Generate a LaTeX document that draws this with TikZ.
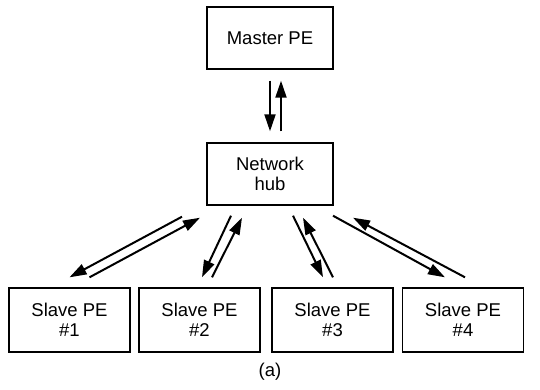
\documentclass[tikz,border=0pt]{standalone}
\usepackage{fontspec}
\setmainfont{Liberation Sans}
\usetikzlibrary{arrows.meta}
\usetikzlibrary{positioning}
\tikzstyle{block} = [
	draw,
	line width=1.4pt,
	inner sep=0pt,
	align=center,
	minimum width=126pt,
	minimum height=62pt
]
\tikzstyle{slave} = [block, minimum width=121pt, minimum height=64pt]
\tikzstyle{link} = [-{Triangle[length=17pt,width=11pt]}, line width=2pt]

\begin{document}
\begin{tikzpicture}[x=1pt, y=-1pt, font=\fontsize{18.5}{20.5}\selectfont]
	\useasboundingbox (0,0) rectangle (540,389);
	\node[block, name = MASTER] at (270,38) {Master PE};
	\node[block, name = HUB, below of = MASTER, node distance = 136pt] {Network\\hub};
	\node[slave, name = SL1] at (69.5,320) {Slave PE\\\#1};
	\node[slave, name = SL2, right of = SL1, node distance = 130pt] {Slave PE\\\#2};
	\node[slave, name = SL3, right of = SL2, node distance = 133pt] {Slave PE\\\#3};
	\node[slave, name = SL4, right of = SL3, node distance = 130.5pt] {Slave PE\\\#4};
	\node[name = CAP] at (270,372) {(a)};

	\draw[link] ([yshift=-11pt]MASTER.south) -- ([yshift=11pt]HUB.north);
	\draw[link] ([xshift=11pt, yshift=11pt]HUB.north) -- ([xshift=11pt, yshift=-11pt]MASTER.south);

	\draw[link] ([xshift=-88pt, yshift=-11pt]HUB.south) -- ([yshift=10pt]SL1.north);
	\draw[link] ([xshift=20pt, yshift=10pt]SL1.north) -- ([xshift=-70pt, yshift=-12pt]HUB.south);
	\draw[link] ([xshift=-39pt, yshift=-10pt]HUB.south) -- ([xshift=2.5pt, yshift=10pt]SL2.north);
	\draw[link] ([xshift=12.5pt, yshift=10pt]SL2.north) -- ([xshift=-28pt, yshift=-12pt]HUB.south);
	\draw[link] ([xshift=23pt, yshift=-10pt]HUB.south) -- ([xshift=-9.5pt, yshift=10pt]SL3.north);
	\draw[link] ([xshift=0.5pt, yshift=10pt]SL3.north) -- ([xshift=33pt, yshift=-12pt]HUB.south);
	\draw[link] ([xshift=63pt, yshift=-10pt]HUB.south) -- ([xshift=-18pt, yshift=10pt]SL4.north);
	\draw[link] ([xshift=2pt, yshift=10pt]SL4.north) -- ([xshift=83pt, yshift=-12pt]HUB.south);
\end{tikzpicture}
\end{document}
